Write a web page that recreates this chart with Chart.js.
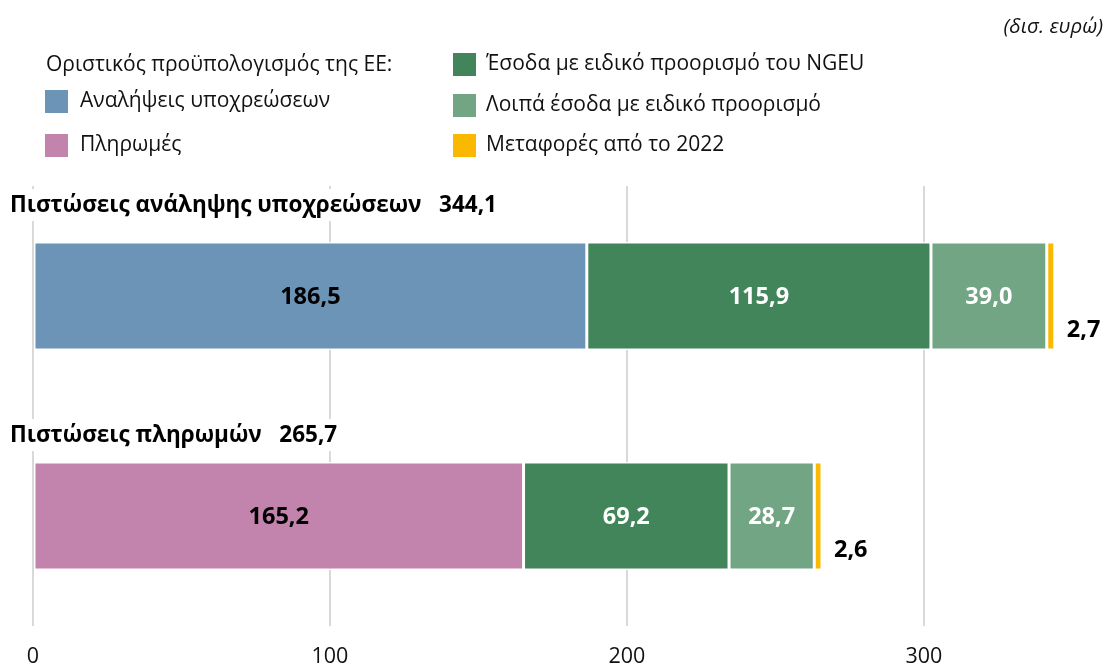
<!DOCTYPE html>
<html>
<head>
<meta charset="utf-8">
<script src="https://cdn.jsdelivr.net/npm/chart.js@4.4.1/dist/chart.umd.min.js"></script>
<style>
  html, body { margin: 0; padding: 0; background: #fff; }
  #wrap { width: 1107px; height: 666px; position: relative; }
</style>
</head>
<body>
<div id="wrap"><canvas id="c" width="1107" height="666"></canvas></div>
<script>
// ---- data ----
const categories = ['Πιστώσεις ανάληψης υποχρεώσεων', 'Πιστώσεις πληρωμών'];
const totalLabels = ['344,1', '265,7'];
const budgetValues = [186.5, 165.2];
const ngeuValues = [115.9, 69.2];
const otherValues = [39.0, 28.7];
const carryValues = [2.7, 2.6];
const tickValues = [0, 100, 200, 300];
const unitLabel = '(δισ. ευρώ)';
const legendHeader = 'Οριστικός προϋπολογισμός της ΕΕ:';
const budgetNames = ['Αναλήψεις υποχρεώσεων', 'Πληρωμές'];
const seriesNames = ['Έσοδα με ειδικό προορισμό του NGEU', 'Λοιπά έσοδα με ειδικό προορισμό', 'Μεταφορές από το 2022'];

const BLUE = '#6b94b6', PINK = '#c283ad', DGREEN = '#42855b', LGREEN = '#71a583', YELLOW = '#fbb800';
const FONT = '"Open Sans", "Noto Sans", sans-serif';
const fmt = v => v.toFixed(1).replace('.', ',');

const extras = {
  id: 'extras',
  afterDatasetsDraw(chart) {
    const ctx = chart.ctx;
    ctx.save();
    // value labels
    const labelColors = ['#000', '#fff', '#fff'];
    chart.data.datasets.forEach((ds, di) => {
      const meta = chart.getDatasetMeta(di);
      meta.data.forEach((el, i) => {
        const v = ds.data[i];
        ctx.font = 'bold 23.5px ' + FONT;
        ctx.textBaseline = 'middle';
        if (di < 3) {
          ctx.fillStyle = labelColors[di];
          ctx.textAlign = 'center';
          ctx.fillText(fmt(v), (el.x + el.base) / 2, el.y + 1);
        } else {
          ctx.fillStyle = '#000';
          ctx.textAlign = 'left';
          ctx.fillText(fmt(v), el.x + 12, el.y + 34);
        }
      });
    });
    // category titles with white background
    const meta0 = chart.getDatasetMeta(0);
    const offs = [37, 27];
    categories.forEach((cat, i) => {
      const el = meta0.data[i];
      const top = el.y - el.height / 2;
      const y = top - offs[i];
      ctx.font = 'bold 22.5px ' + FONT;
      const txt = cat + '   ' + totalLabels[i];
      const w = ctx.measureText(txt).width;
      ctx.fillStyle = '#fff';
      ctx.fillRect(6, y - 16, w + 8, 32);
      ctx.fillStyle = '#000';
      ctx.textAlign = 'left';
      ctx.textBaseline = 'middle';
      ctx.fillText(txt, 10, y);
    });
    // legend
    ctx.font = '21px ' + FONT;
    ctx.fillStyle = '#111';
    ctx.textBaseline = 'middle';
    ctx.textAlign = 'left';
    ctx.fillText(legendHeader, 46, 65);
    const leftItems = [[BLUE, budgetNames[0], 101], [PINK, budgetNames[1], 145]];
    leftItems.forEach(([c, t, y]) => {
      ctx.fillStyle = c; ctx.fillRect(45, y - 11, 23, 23);
      ctx.fillStyle = '#111'; ctx.fillText(t, 80, y);
    });
    const rightColors = [DGREEN, LGREEN, YELLOW];
    const rightY = [64, 105, 145];
    seriesNames.forEach((t, i) => {
      ctx.fillStyle = rightColors[i]; ctx.fillRect(453, rightY[i] - 11, 23, 23);
      ctx.fillStyle = '#111'; ctx.fillText(t, 486, rightY[i]);
    });
    // unit
    ctx.font = 'italic 20.5px ' + FONT;
    ctx.textAlign = 'right';
    ctx.fillText(unitLabel, 1103, 27);
    ctx.restore();
  }
};

const common = { borderColor: '#fff', borderWidth: 1.5, borderSkipped: false, barPercentage: 0.49, categoryPercentage: 1 };

new Chart(document.getElementById('c'), {
  type: 'bar',
  data: {
    labels: categories,
    datasets: [
      Object.assign({ label: budgetNames.join(' / '), data: budgetValues, backgroundColor: [BLUE, PINK] }, common),
      Object.assign({ label: seriesNames[0], data: ngeuValues, backgroundColor: DGREEN }, common),
      Object.assign({ label: seriesNames[1], data: otherValues, backgroundColor: LGREEN }, common),
      Object.assign({ label: seriesNames[2], data: carryValues, backgroundColor: YELLOW }, common)
    ]
  },
  options: {
    indexAxis: 'y',
    responsive: false,
    animation: false,
    layout: { padding: { top: 186, left: 33, right: 5, bottom: 0 } },
    plugins: { legend: { display: false }, tooltip: { enabled: false } },
    scales: {
      x: {
        stacked: true,
        min: 0, max: 360,
        afterBuildTicks(scale) { scale.ticks = tickValues.map(v => ({ value: v })); },
        afterFit(scale) { scale.height = 40; },
        border: { display: false },
        grid: { color: '#d9d9d9', lineWidth: 2, drawTicks: false },
        ticks: { padding: 18, color: '#111', font: { family: FONT, size: 21.5 }, maxRotation: 0 }
      },
      y: { stacked: true, display: false }
    }
  },
  plugins: [extras]
});
</script>
</body>
</html>
